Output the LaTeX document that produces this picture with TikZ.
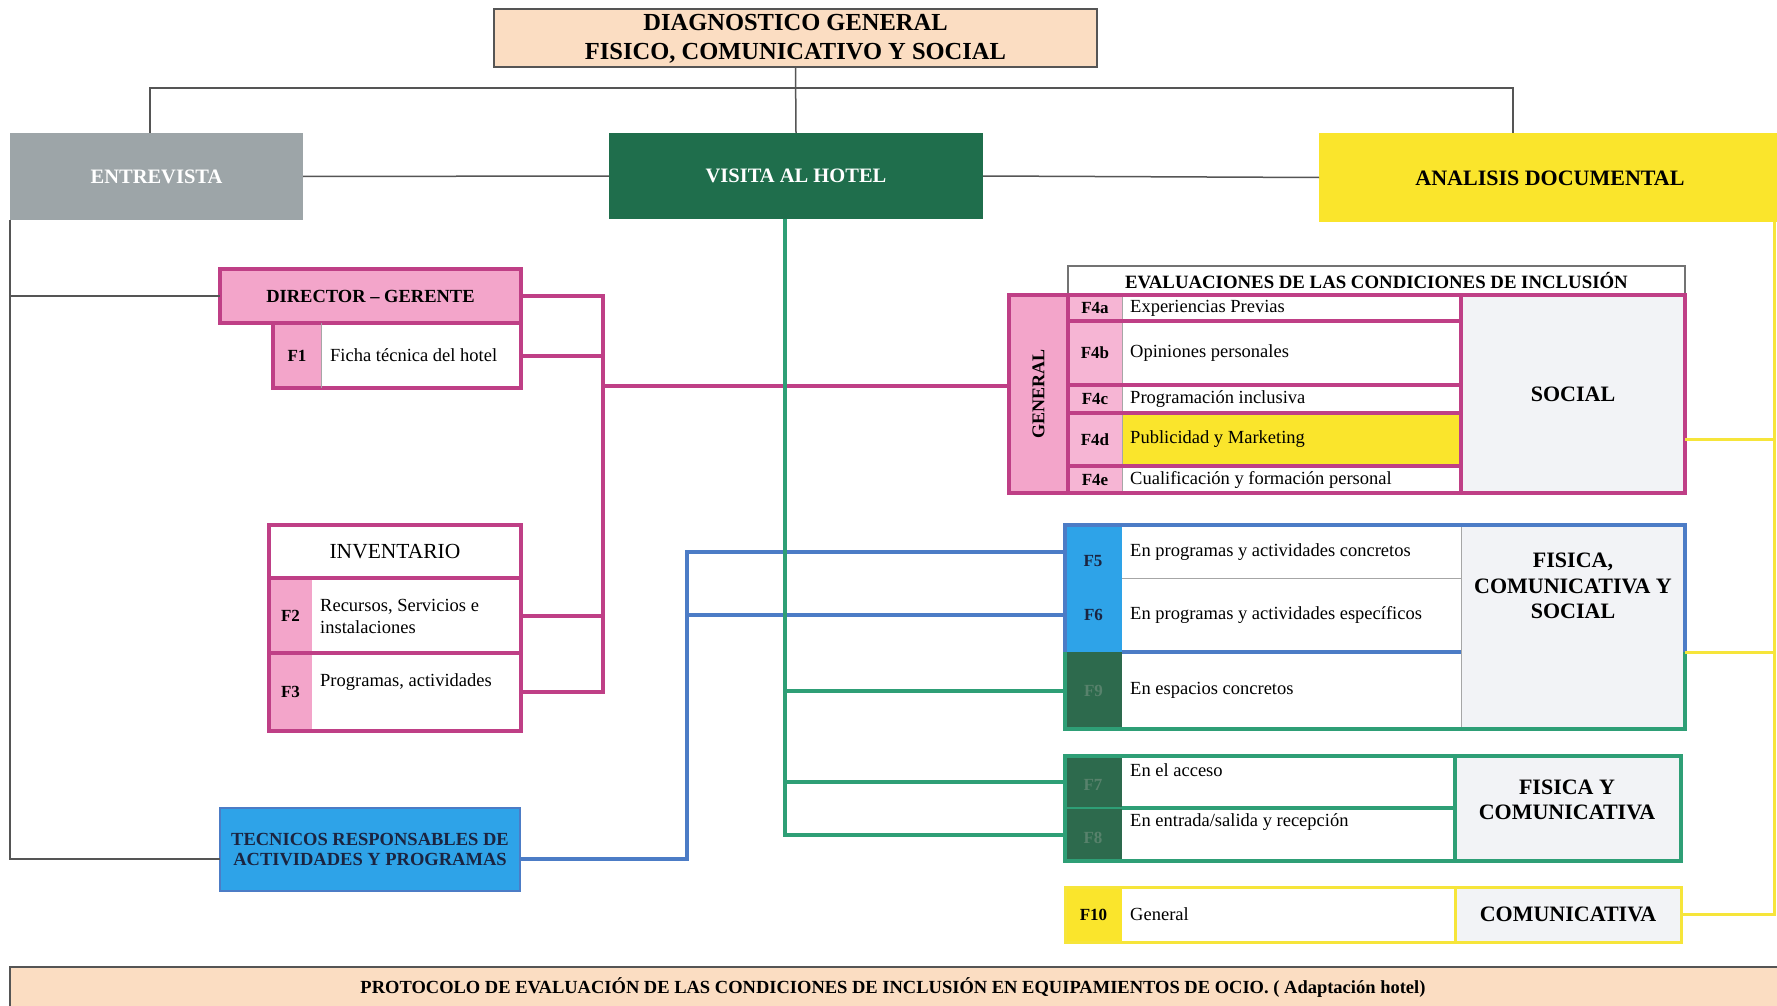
\documentclass[tikz,border=0pt]{standalone}
\usepackage{fontspec}
\setmainfont{Liberation Serif}
\usetikzlibrary{fit}

\definecolor{peach}{HTML}{FBDDC2}
\definecolor{entgray}{HTML}{9DA5A8}
\definecolor{vgreen}{HTML}{1F6E4C}
\definecolor{ayellow}{HTML}{FAE52C}
\definecolor{pinkfill}{HTML}{F3A5CA}
\definecolor{pinklt}{HTML}{F6B5D4}
\definecolor{magline}{HTML}{BF3F86}
\definecolor{grnline}{HTML}{2E9F76}
\definecolor{bluline}{HTML}{4C7CC6}
\definecolor{bluefill}{HTML}{2EA3E8}
\definecolor{dgreen}{HTML}{2D6A4D}
\definecolor{lightcell}{HTML}{F2F3F6}
\definecolor{yelline}{HTML}{F6E53A}
\definecolor{linegray}{HTML}{555555}
\definecolor{navytxt}{HTML}{1B2440}
\definecolor{dgtxt}{HTML}{58826C}

% a filled rectangular cell spanning (x1,y1)-(x2,y2), y measured downwards
\newcommand\mkcell[6]{%
  \coordinate (#1-a) at (#2,#3);
  \coordinate (#1-b) at (#4,#5);
  \node[cellbox, fill=#6, fit=(#1-a)(#1-b)] (#1) {};}

\begin{document}
\begin{tikzpicture}[x=1pt,y=-1pt,
  cellbox/.style={draw=none, inner sep=0pt, outer sep=0pt},
  thinblk/.style={draw=linegray, line width=1.5pt},
  thingray/.style={draw=black!35, line width=1pt},
  mag/.style={draw=magline, line width=4pt},
  grn/.style={draw=grnline, line width=4pt},
  blu/.style={draw=bluline, line width=4pt},
  yel/.style={draw=yelline, line width=3pt},
  lbl/.style={font=\fontsize{18.5}{21}\selectfont, anchor=west, inner sep=0pt, align=left},
  code/.style={font=\bfseries\fontsize{17}{19}\selectfont, inner sep=0pt},
  head/.style={font=\bfseries\fontsize{22}{25.5}\selectfont, align=center, inner sep=0pt},
  main/.style={font=\bfseries\fontsize{20.5}{24}\selectfont, text=white, inner sep=0pt},
]
\useasboundingbox (0,0) rectangle (1777,1006);
\fill[white] (0,0) rectangle (1777,1006);

% ---------- title ----------
\mkcell{diag}{494}{9}{1097}{67}{peach}
\draw[thinblk] (diag.north west) rectangle (diag.south east);
\node[font=\bfseries\fontsize{24.5}{29}\selectfont, align=center, inner sep=0pt] at ([yshift=-1pt]diag.center)
  {DIAGNOSTICO GENERAL\\FISICO, COMUNICATIVO Y SOCIAL};

% ---------- three methods ----------
\mkcell{entr}{10}{133}{303}{220}{entgray}
\node[main] at (entr.center) {ENTREVISTA};
\mkcell{visita}{609}{133}{983}{219}{vgreen}
\node[main] at (visita.center) {VISITA AL HOTEL};
\mkcell{anal}{1319}{133}{1777}{222}{ayellow}
\node[head] at (1550,178) {ANALISIS DOCUMENTAL};

\coordinate (barL) at (150,88);
\coordinate (barR) at (1513,88);
\draw[thinblk] (entr.north -| barL) -- (barL) -- (barR) -- (anal.north -| barR);
\draw[thinblk] (diag.south) -- (visita.north);
\draw[thinblk] (entr.east) -- (visita.west);
\draw[thinblk] (visita.east) -- (anal.west);

% ---------- interview: director ----------
\mkcell{dir}{220}{269}{521}{323}{pinkfill}
\mkcell{f1row}{273}{323}{521}{388}{white}
\mkcell{f1c}{273}{323}{321}{388}{pinkfill}
\draw[mag] (dir.north west) rectangle (dir.south east);
\draw[mag] (f1row.north west) rectangle (f1row.south east);
\draw[thingray] (f1c.north east) -- (f1c.south east);
\node[font=\bfseries\fontsize{18.5}{20}\selectfont, inner sep=0pt] at (dir.center) {DIRECTOR -- GERENTE};
\node[code] at (f1c.center) {F1};
\node[lbl] at (330,355) {Ficha técnica del hotel};

% ---------- interview: inventory ----------
\mkcell{inv}{269}{525}{521}{731}{white}
\mkcell{invh}{269}{525}{521}{578}{white}
\mkcell{f2row}{269}{578}{521}{653}{white}
\mkcell{f3row}{269}{653}{521}{731}{white}
\mkcell{f2c}{269}{578}{312}{653}{pinkfill}
\mkcell{f3c}{269}{653}{312}{731}{pinkfill}
\draw[mag] (inv.north west) rectangle (inv.south east);
\draw[mag] (f2row.north west) -- (f2row.north east);
\draw[mag] (f3row.north west) -- (f3row.north east);
\node[font=\fontsize{21.5}{24}\selectfont, inner sep=0pt] at (invh.center) {INVENTARIO};
\node[code] at (f2c.center) {F2};
\node[code] at (f3c.center) {F3};
\node[lbl, font=\fontsize{18.5}{22}\selectfont] at (320,616) {Recursos, Servicios e\\instalaciones};
\node[lbl] at (320,682) {Programas, actividades};

% ---------- interview: technicians ----------
\mkcell{tec}{220}{808}{520}{891}{bluefill}
\draw[draw=bluline, line width=1.5pt] (tec.north west) rectangle (tec.south east);
\node[font=\bfseries\fontsize{18.5}{20.5}\selectfont, text=navytxt, align=center, inner sep=0pt]
  at (tec.center) {TECNICOS RESPONSABLES DE\\ACTIVIDADES Y PROGRAMAS};

\coordinate (ebus) at (10,859);
\draw[thinblk] (entr.south west) -- (ebus) -- (ebus -| tec.west);
\draw[thinblk] (entr.south west |- dir.west) -- (dir.west);

% ---------- social evaluation block ----------
\mkcell{evh}{1068}{266}{1685}{295}{white}
\draw[draw=black!55, line width=2pt] (evh.north west) rectangle (evh.south east);
\node[font=\bfseries\fontsize{18.8}{21}\selectfont, inner sep=0pt] at (evh.center)
  {EVALUACIONES DE LAS CONDICIONES DE INCLUSIÓN};

\mkcell{gen}{1009}{295}{1685}{493}{white}
\mkcell{gcol}{1009}{295}{1068}{493}{pinkfill}
\mkcell{c4a}{1068}{295}{1122}{321}{pinklt}
\mkcell{c4b}{1068}{321}{1122}{385}{pinklt}
\mkcell{c4c}{1068}{385}{1122}{413}{pinklt}
\mkcell{c4d}{1068}{413}{1122}{466}{pinklt}
\mkcell{c4e}{1068}{466}{1122}{493}{pinklt}
\mkcell{t4a}{1122}{295}{1461}{321}{white}
\mkcell{t4b}{1122}{321}{1461}{385}{white}
\mkcell{t4c}{1122}{385}{1461}{413}{white}
\mkcell{t4d}{1122}{413}{1461}{466}{ayellow}
\mkcell{t4e}{1122}{466}{1461}{493}{white}
\mkcell{soc}{1461}{295}{1685}{493}{lightcell}
\draw[thingray] (c4a.north east) -- (c4e.south east);
\draw[mag] (t4b.north west) -- (t4b.north east);
\draw[mag] (t4c.north west) -- (t4c.north east);
\draw[mag] (t4d.north west) -- (t4d.north east);
\draw[mag] (t4e.north west) -- (t4e.north east);
\draw[mag] (c4b.north west) -- (c4b.north east);
\draw[mag] (c4c.north west) -- (c4c.north east);
\draw[mag] (c4d.north west) -- (c4d.north east);
\draw[mag] (c4e.north west) -- (c4e.north east);
\draw[mag] (gcol.north east) -- (gcol.south east);
\draw[mag] (soc.north west) -- (soc.south west);
\draw[mag] (gen.north west) rectangle (gen.south east);
\node[code, font=\bfseries\fontsize{18}{20}\selectfont, rotate=90] at (gcol.center) {GENERAL};
\node[code] at (c4a.center) {F4a};
\node[code] at (c4b.center) {F4b};
\node[code] at (c4c.center) {F4c};
\node[code] at (c4d.center) {F4d};
\node[code] at (c4e.center) {F4e};
\node[lbl] at ([xshift=8pt]t4a.west) {Experiencias Previas};
\node[lbl] at ([xshift=8pt]t4b.west) {Opiniones personales};
\node[lbl] at ([xshift=8pt]t4c.west) {Programación inclusiva};
\node[lbl] at ([xshift=8pt]t4d.west) {Publicidad y Marketing};
\node[lbl] at ([xshift=8pt]t4e.west) {Cualificación y formación personal};
\node[head] at (soc.center) {SOCIAL};

% ---------- physical, communicative and social block ----------
\mkcell{fcs}{1065}{525}{1685}{729}{white}
\mkcell{c5}{1065}{525}{1122}{578}{bluefill}
\mkcell{c6}{1065}{578}{1122}{652}{bluefill}
\mkcell{c9}{1065}{652}{1122}{729}{dgreen}
\mkcell{t5}{1122}{525}{1461}{578}{white}
\mkcell{t6}{1122}{578}{1461}{652}{white}
\mkcell{t9}{1122}{652}{1461}{729}{white}
\mkcell{fcsr}{1461}{525}{1685}{729}{lightcell}
\draw[thingray] (t5.south west) -- (t5.south east);
\draw[thingray] (fcsr.north west) -- (fcsr.south west);
\draw[blu] (t6.south west) -- (t6.south east);
\draw[blu] (c6.south west) -- (fcs.north west) -- (fcs.north east) -- (fcs.east |- c6.south east);
\draw[grn] (c6.south west) -- (fcs.south west) -- (fcs.south east) -- (fcs.east |- c6.south east);
\node[code, text=navytxt] at (1093,561) {F5};
\node[code, text=navytxt] at (c6.center) {F6};
\node[code, text=dgtxt] at (c9.center) {F9};
\node[lbl] at (1130,552) {En programas y actividades concretos};
\node[lbl] at ([xshift=8pt]t6.west) {En programas y actividades específicos};
\node[lbl] at ([xshift=8pt]t9.west) {En espacios concretos};
\node[head] at (1573,586) {FISICA,\\COMUNICATIVA Y\\SOCIAL};

% ---------- physical and communicative block ----------
\mkcell{g78}{1065}{756}{1681}{861}{white}
\mkcell{c7}{1065}{756}{1122}{808}{dgreen}
\mkcell{c8}{1065}{808}{1122}{861}{dgreen}
\mkcell{t7}{1122}{756}{1455}{808}{white}
\mkcell{t8}{1122}{808}{1455}{861}{white}
\mkcell{r78}{1455}{756}{1681}{861}{lightcell}
\draw[draw=grnline, line width=2pt] (c7.south west) -- (c7.south east);
\draw[grn] (t7.south west) -- (t7.south east);
\draw[grn] (r78.north west) -- (r78.south west);
\draw[grn] (g78.north west) rectangle (g78.south east);
\node[code, text=dgtxt] at (1093,785) {F7};
\node[code, text=dgtxt] at (1093,838) {F8};
\node[lbl] at (1130,770) {En el acceso};
\node[lbl] at (1130,822) {En entrada/salida y recepción};
\node[head] at (1567,800) {FISICA Y\\COMUNICATIVA};

% ---------- communicative block ----------
\mkcell{g10}{1065}{887}{1681}{942}{white}
\mkcell{c10}{1065}{887}{1122}{942}{ayellow}
\mkcell{t10}{1122}{887}{1455}{942}{white}
\mkcell{r10}{1455}{887}{1681}{942}{lightcell}
\draw[yel] (r10.north west) -- (r10.south west);
\draw[yel] (g10.north west) rectangle (g10.south east);
\node[code] at (c10.center) {F10};
\node[lbl] at ([xshift=8pt]t10.west) {General};
\node[head] at (r10.center) {COMUNICATIVA};

% ---------- connectors ----------
% director / inventory bus (magenta)
\coordinate (mbus) at (603,0);
\coordinate (mmid) at (603,386);
\draw[mag] (dir.east) -- (dir.east -| mbus) -- (f3row.east -| mbus) -- (f3row.east);
\draw[mag] (f1row.east) -- (f1row.east -| mbus);
\draw[mag] (f2row.east) -- (f2row.east -| mbus);
\draw[mag] (mmid) -- (mmid -| gen.west);

% technicians bus (blue)
\coordinate (bbus) at (687,0);
\draw[blu] (tec.east |- ebus) -- (ebus -| bbus) -- (bbus |- c5.west) -- (c5.west);
\draw[blu] (bbus |- c6.west) -- (c6.west);

% hotel visit bus (green)
\coordinate (gx) at (785,0);
\draw[grn] (visita.south -| gx) -- (gx |- c8.west) -- (c8.west);
\draw[grn] (gx |- c9.west) -- (c9.west);
\draw[grn] (gx |- c7.west) -- (c7.west);

% document analysis bus (yellow)
\coordinate (yx) at (1774,0);
\coordinate (ys) at (0,439);
\coordinate (yf) at (0,652);
\draw[yel] (anal.south -| yx) -- (yx |- r10.east) -- (r10.east);
\draw[yel] (soc.east |- ys) -- (yx |- ys);
\draw[yel] (fcs.east |- yf) -- (yx |- yf);

% ---------- footer ----------
\mkcell{prot}{10}{967}{1777}{1006}{peach}
\draw[thinblk] (prot.south west) -- (prot.north west) -- (prot.north east);
\node[font=\bfseries\fontsize{18.5}{20}\selectfont, inner sep=0pt] at (893,988)
  {PROTOCOLO DE EVALUACIÓN DE LAS CONDICIONES DE INCLUSIÓN EN EQUIPAMIENTOS DE OCIO. ( Adaptación hotel)};
\end{tikzpicture}
\end{document}
